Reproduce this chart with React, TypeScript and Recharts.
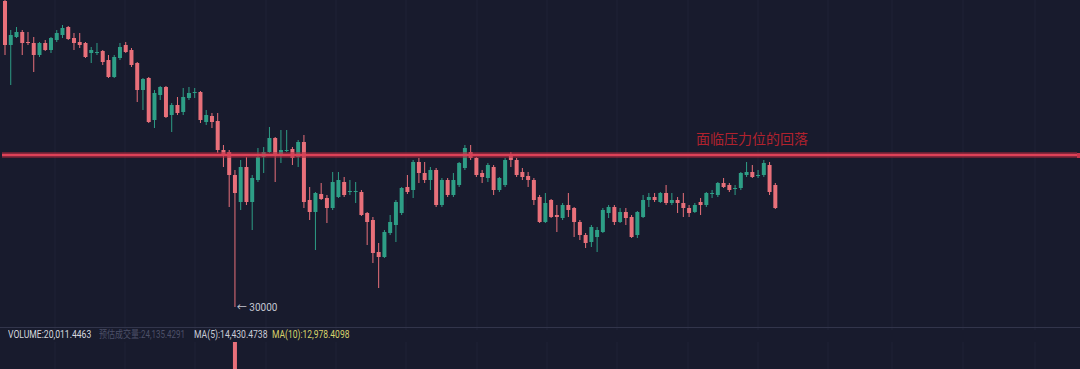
import React from 'react';
import {
  ComposedChart,
  BarChart,
  Bar,
  Cell,
  XAxis,
  YAxis,
  CartesianGrid,
  ReferenceLine,
  ReferenceDot,
} from 'recharts';

// candle prices, one entry per candle, left to right
const opens = [
  45300, 43100, 43500, 43750, 43250, 43200, 42600, 43200, 42850, 43350,
  43600, 44000, 43450, 43250, 43200, 42700, 42700, 42800, 42350, 41500,
  42450, 43100, 42850, 42200, 40850, 41450, 39350, 40600, 41000, 39600,
  40100, 39750, 40450, 40700, 40750, 39250, 39550, 39300, 37850, 37750,
  36600, 35250, 37000, 35250, 36350, 37500, 37750, 38450, 37600, 37800,
  37900, 37500, 38250, 35350, 34750, 35650, 35450, 34950, 35500, 36250,
  35750, 35750, 35750, 34700, 34350, 32750, 32500, 33700, 34100, 34700,
  36000, 35850, 37250, 36700, 36350, 36850, 35100, 36350, 35600, 36100,
  36950, 37750, 37450, 36700, 36450, 37000, 35850, 36100, 37600, 37350,
  36750, 36550, 36350, 35500, 34250, 35350, 34600, 34450, 35100, 34950,
  34250, 33600, 33250, 33500, 33750, 34700, 35000, 34250, 34750, 34500,
  33600, 34500, 35350, 35500, 35250, 35700, 35200, 35350, 35200, 34950,
  34750, 35250, 35100, 35650, 35600, 36200, 36100, 35900, 35950, 36600,
  36750, 36550, 36600, 37100, 36100,
];

const highs = [
  45350, 43850, 44000, 43850, 43750, 43500, 43250, 43350, 43500, 43850,
  44100, 44050, 43700, 43700, 43250, 43000, 43200, 42850, 42600, 42600,
  43200, 43250, 42950, 42250, 41450, 41500, 40850, 41050, 41050, 40200,
  40500, 40950, 41000, 40950, 40800, 39850, 39700, 39700, 38100, 37850,
  36850, 37350, 37500, 36600, 37950, 38000, 39000, 38500, 38850, 38850,
  38000, 38350, 38600, 36000, 35750, 36200, 35600, 36750, 36750, 36500,
  36350, 36250, 35850, 34750, 34500, 33200, 33850, 34600, 35350, 36000,
  36600, 37350, 37450, 37250, 37000, 36950, 36450, 36450, 36700, 37250,
  38100, 38100, 37500, 36850, 37200, 37100, 36500, 37450, 37750, 37450,
  36950, 36750, 36450, 35600, 35700, 35400, 35100, 35200, 35700, 35000,
  34350, 33700, 34100, 34000, 34950, 35100, 35100, 34950, 34950, 34600,
  34800, 35600, 35700, 35700, 35750, 36100, 35700, 35500, 35700, 35100,
  35200, 35450, 35750, 35850, 36250, 36450, 36200, 36100, 36750, 37250,
  37100, 36850, 37350, 37250, 36200,
];

const lows = [
  42600, 41100, 43450, 42600, 43100, 41750, 42500, 42800, 42700, 43250,
  43450, 43350, 42850, 42950, 42450, 42200, 42600, 42100, 41450, 41450,
  42350, 42700, 42000, 40250, 39850, 39200, 38950, 40350, 39450, 38750,
  39600, 39600, 40350, 40450, 39200, 39100, 38950, 37700, 37000, 35000,
  30000, 34850, 35100, 33850, 36250, 36700, 37700, 36250, 37200, 37750,
  37100, 37000, 34950, 34350, 32850, 35350, 34200, 34850, 35450, 35500,
  35600, 35200, 34550, 33100, 32200, 30950, 32450, 33600, 33250, 34600,
  35650, 35450, 36200, 36200, 35850, 35000, 35000, 35500, 35500, 36000,
  36850, 37350, 36500, 36200, 36250, 35600, 35750, 36000, 37000, 36500,
  36350, 36000, 35100, 34200, 34200, 34450, 33750, 34350, 34500, 33500,
  33350, 32950, 33000, 32750, 33700, 34450, 34100, 34200, 34100, 33450,
  33450, 34450, 35000, 35250, 35200, 35100, 35100, 34700, 34500, 34500,
  34700, 34600, 35000, 35450, 35500, 35950, 35750, 35600, 35850, 36500,
  36450, 36450, 36500, 35600, 34900,
];

const closes = [
  43100, 43600, 43750, 43200, 43200, 42600, 43200, 42850, 43450, 43700,
  43950, 43400, 43200, 43100, 42500, 42850, 42750, 42250, 41500, 42500,
  43000, 42750, 42100, 40850, 41400, 39250, 40700, 41000, 39500, 40100,
  39700, 40500, 40700, 40750, 39350, 39600, 39250, 37850, 37600, 36600,
  35700, 37000, 35250, 36450, 37500, 37750, 38450, 37600, 37850, 37850,
  37450, 38250, 35250, 34750, 35700, 35400, 34950, 36250, 36350, 35600,
  35800, 35800, 34600, 34250, 32700, 32500, 33750, 34250, 35250, 35950,
  35750, 37250, 36700, 36350, 36850, 35100, 36350, 35600, 36350, 37200,
  37950, 37450, 36600, 36500, 37100, 35850, 36450, 37350, 37350, 36600,
  36500, 36350, 35350, 34250, 35200, 34500, 34500, 35100, 34850, 34250,
  33600, 33200, 34000, 33850, 34850, 35000, 34250, 34750, 34450, 33500,
  34750, 35350, 35500, 35350, 35700, 35200, 35350, 35200, 34950, 34700,
  35100, 35100, 35700, 35700, 36200, 36000, 35850, 35950, 36700, 36750,
  36500, 36600, 37200, 35750, 34950,
];

const volumes = [
  18200, 21400, 15300, 17800, 12600, 19900, 16400, 13100, 15800, 14200,
  16900, 20300, 13800, 12500, 18700, 11900, 10800, 16200, 22500, 20100,
  17300, 12200, 16600, 28400, 24100, 31600, 27300, 15800, 25400, 21800,
  14600, 19200, 13400, 11700, 26800, 15200, 13900, 33800, 21200, 38500,
  258000, 42100, 36400, 30800, 27600, 19300, 24800, 22600, 18400, 14700,
  13200, 19600, 45200, 26300, 31400, 14900, 18800, 25700, 19400, 16100,
  11300, 12800, 21900, 17400, 32600, 28200, 26700, 18900, 24300, 23100,
  13600, 27800, 17200, 12900, 14300, 22400, 18600, 15100, 13700, 17900,
  20800, 13300, 16700, 11200, 15600, 19800, 12400, 18300, 11800, 15400,
  12100, 10900, 17600, 21300, 16300, 14800, 12700, 13500, 11600, 15900,
  14100, 12300, 16800, 13000, 17100, 11400, 14500, 12000, 11100, 15700,
  17700, 16000, 10700, 10300, 11500, 13600, 10600, 11900, 12600, 10800,
  11300, 10200, 13900, 9800, 14400, 10500, 10100, 9600, 15200, 12900,
  11000, 9900, 14700, 23800, 20011,
];

// readouts in the strip between price and volume panes
const volumeInfo = [
  { text: 'VOLUME:20,011.4463', color: '#d5d7df', squeeze: 0.86 },
  { text: '预估成交量:24,135.4291', color: '#4c5068', squeeze: 0.8 },
  { text: 'MA(5):14,430.4738', color: '#c9cbd6', squeeze: 0.86 },
  { text: 'MA(10):12,978.4098', color: '#d7d26a', squeeze: 0.85 },
];
const infoX = [8, 99, 194, 272];

// empty slots to the right of the last candle
const TOTAL_SLOTS = 187;

const resistance = 37600;
const lowMark = 30000;
const lowIndex = 40;
const priceDomain = [28850, 45350];

const gridX = [55, 125, 195, 266, 336, 406, 477, 547, 617, 688, 758, 828, 892, 963, 1035];

const UP = '#2e9e86';
const DOWN = '#e8707a';
const BG = '#181b2d';

const rows = Array.from({ length: TOTAL_SLOTS }, (_, i) => {
  if (i >= opens.length) return { i, range: null, vol: null };
  return {
    i,
    o: opens[i],
    h: highs[i],
    l: lows[i],
    c: closes[i],
    range: [lows[i], highs[i]],
    vol: volumes[i],
  };
});

const Candle = (props: any) => {
  const { x, y, width, height, payload } = props;
  if (!payload || payload.o == null) return null;
  const { o, h, l, c } = payload;
  const top = Math.min(y, y + height);
  const span = Math.abs(height);
  const k = span / (h - l || 1);
  const color = c < o ? DOWN : UP;
  const cx = x + width / 2;
  const bodyTop = top + (h - Math.max(o, c)) * k;
  const bodyH = Math.max(1, Math.abs(o - c) * k);
  return (
    <g>
      <line x1={cx} x2={cx} y1={top} y2={top + span} stroke={color} strokeWidth={1} />
      <rect x={cx - 2} y={bodyTop} width={4} height={bodyH} fill={color} />
    </g>
  );
};

const margin = { top: 0, right: 3, left: 2, bottom: 0 };

export default function App() {
  return (
    <div
      style={{
        position: 'absolute',
        left: 0,
        top: 0,
        width: 1080,
        height: 369,
        background: BG,
        overflow: 'hidden',
        fontFamily: "Roboto, 'Noto Sans CJK SC', sans-serif",
      }}
    >
      <div style={{ position: 'absolute', left: 0, top: 0 }}>
        <ComposedChart width={1080} height={330} data={rows} margin={margin} barCategoryGap={0}>
          <CartesianGrid vertical horizontal={false} verticalPoints={gridX} stroke="#1f2337" />
          <XAxis dataKey="i" hide />
          <YAxis domain={priceDomain} hide allowDataOverflow />
          <ReferenceLine y={resistance} stroke="#a8243a" strokeOpacity={0.55} strokeWidth={6} />
          <ReferenceLine y={resistance} stroke="#dd4258" strokeWidth={2.5} />
          <Bar dataKey="range" shape={<Candle />} isAnimationActive={false} />
          <ReferenceDot
            x={lowIndex}
            y={lowMark}
            r={0}
            label={{ value: '← 30000', position: 'right', fill: '#c4c7d1', fontSize: 10, offset: 2 }}
          />
        </ComposedChart>
      </div>

      {/* the resistance line runs to the right edge of the window */}
      <div style={{ position: 'absolute', left: 1077, top: 153, width: 3, height: 5, background: '#c8344a' }} />

      <div
        style={{
          position: 'absolute',
          left: 696,
          top: 130,
          fontSize: 14,
          lineHeight: '16px',
          color: '#b0222e',
          fontFamily: "'Noto Sans CJK SC', sans-serif",
        }}
      >
        面临压力位的回落
      </div>

      <div style={{ position: 'absolute', left: 0, top: 327, width: 1080, height: 1, background: '#32354b' }} />

      <div style={{ position: 'absolute', left: 0, top: 342 }}>
        <BarChart width={1080} height={200} data={rows} margin={margin} barCategoryGap={0}>
          <CartesianGrid vertical horizontal={false} verticalPoints={gridX} stroke="#1f2337" />
          <XAxis dataKey="i" hide />
          <YAxis domain={[0, 258000]} hide />
          <Bar dataKey="vol" barSize={4} isAnimationActive={false}>
            {rows.map((r: any) => (
              <Cell key={r.i} fill={r.c < r.o ? DOWN : UP} />
            ))}
          </Bar>
        </BarChart>
      </div>

      {volumeInfo.map((d, k) => (
        <span
          key={d.text}
          style={{
            position: 'absolute',
            left: infoX[k],
            top: 329,
            fontSize: 10,
            lineHeight: '12px',
            whiteSpace: 'nowrap',
            color: d.color,
            transform: `scaleX(${d.squeeze})`,
            transformOrigin: 'left center',
          }}
        >
          {d.text}
        </span>
      ))}
    </div>
  );
}
